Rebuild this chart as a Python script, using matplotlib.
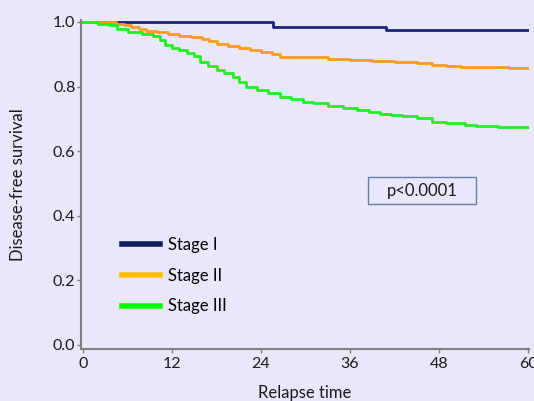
import matplotlib
matplotlib.use("Agg")
import matplotlib.pyplot as plt
from matplotlib.lines import Line2D
from matplotlib.patches import Rectangle

plt.rcParams['font.family'] = ['Lato', 'DejaVu Sans']

# Kaplan-Meier style curves, months vs disease-free survival
stage1_t = [0, 25.6, 40.8, 60]
stage1_s = [1.0, 0.985, 0.974, 0.974]

stage2_t = [0, 4.5, 5.5, 6.5, 7.5, 8.5, 10, 11.5, 13, 14.5, 16, 17, 18, 19.5, 21,
            22.5, 24, 25.5, 26.5, 30, 33, 36, 39, 42, 45, 47, 49, 51, 54, 57.5, 60]
stage2_s = [1.0, 0.995, 0.99, 0.985, 0.978, 0.972, 0.968, 0.962, 0.955, 0.952, 0.948,
            0.94, 0.932, 0.927, 0.92, 0.914, 0.908, 0.9, 0.893, 0.891, 0.885, 0.882,
            0.879, 0.876, 0.873, 0.867, 0.865, 0.861, 0.861, 0.857, 0.857]

stage3_t = [0, 2, 3.5, 4.6, 6, 8, 9.5, 10.4, 11, 12, 13, 14, 15, 15.8, 16.8, 18, 19,
            20.2, 21, 22, 23.5, 25, 26.5, 28, 29.6, 31, 33, 35, 37, 38.5, 40, 41.5, 43,
            45, 47, 49, 51.5, 53, 56, 60]
stage3_s = [1.0, 0.995, 0.99, 0.978, 0.968, 0.963, 0.955, 0.944, 0.93, 0.92, 0.913,
            0.905, 0.895, 0.875, 0.865, 0.851, 0.842, 0.83, 0.815, 0.8, 0.79, 0.78,
            0.768, 0.762, 0.752, 0.748, 0.74, 0.734, 0.728, 0.721, 0.716, 0.712, 0.708,
            0.703, 0.69, 0.688, 0.681, 0.678, 0.675, 0.675]

labels = ['Stage I', 'Stage II', 'Stage III']
curve_colors = ['#1A237E', '#FF9A1A', '#22EE22']
legend_colors = ['#0D1F5C', '#FFC000', '#00FF00']
xticks = [0, 12, 24, 36, 48, 60]
yticks = [0.0, 0.2, 0.4, 0.6, 0.8, 1.0]

bg = '#E8E8FA'
W, H = 534, 401
fig = plt.figure(figsize=(W / 100, H / 100), dpi=100, facecolor=bg)
ax = fig.add_axes([81 / W, 52 / H, 448 / W, 329 / H], facecolor=bg)

for t, s, c in zip([stage1_t, stage2_t, stage3_t], [stage1_s, stage2_s, stage3_s], curve_colors):
    ax.step(t, s, where='post', color=c, lw=2)

ax.set_xlim(-0.27, 60.13)
ax.set_ylim(-0.0124, 1.006)
ax.set_xticks(xticks)
ax.set_xticklabels([str(v) for v in xticks])
ax.set_yticks(yticks)
ax.set_yticklabels([f'{v:.1f}' for v in yticks])

for side in ['top', 'right']:
    ax.spines[side].set_visible(False)
for side in ['left', 'bottom']:
    ax.spines[side].set_color('#808080')
    ax.spines[side].set_linewidth(1.5)
ax.tick_params(axis='both', direction='out', length=3, width=1, color='#808080',
               labelsize=11.5, labelcolor='#1a1a1a')
ax.tick_params(axis='y', pad=1)
ax.tick_params(axis='x', pad=3)

ax.set_ylabel('Disease-free survival', fontsize=12, color='#1a1a1a', va='center')
ax.yaxis.set_label_coords(-0.14, 0.5)
ax.set_xlabel('Relapse time', fontsize=12, color='#1a1a1a', va='center')
ax.xaxis.set_label_coords(0.5, -0.134)

handles = [Line2D([], [], color=c, lw=4) for c in legend_colors]
ax.legend(handles, labels, loc='upper left', bbox_to_anchor=(122 / W, 1 - 237 / H),
          bbox_transform=fig.transFigure, frameon=False, fontsize=12,
          handlelength=2.28, handletextpad=0.5, labelspacing=0.88,
          borderpad=0, borderaxespad=0)

# p-value box
fig.patches.append(Rectangle((368 / W, 1 - 204 / H), 108 / W, 27 / H,
                             transform=fig.transFigure, fill=False,
                             edgecolor='#6B7BA8', lw=1))
fig.text(422 / W, 1 - 191 / H, 'p<0.0001', fontsize=12, color='#1a1a1a',
         ha='center', va='center')

fig.savefig('out.png', dpi=100, facecolor=bg)
